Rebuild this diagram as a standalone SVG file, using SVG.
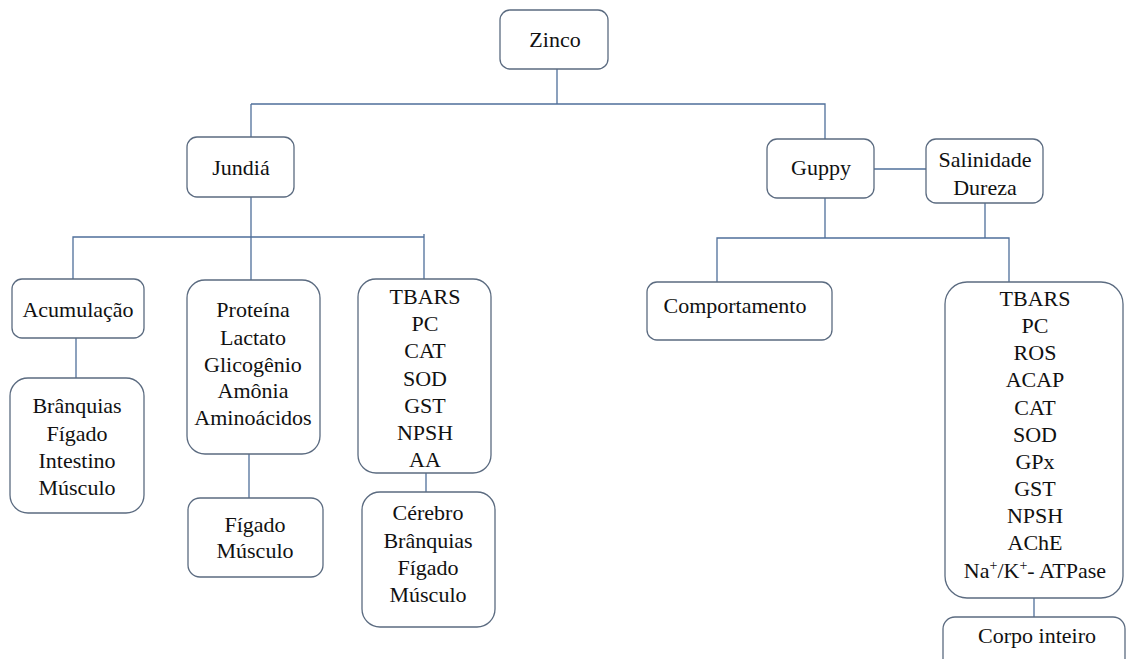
<svg xmlns="http://www.w3.org/2000/svg" width="1127" height="659" viewBox="0 0 1127 659">
<style>
.b{fill:#fff;stroke:#5b6b80;stroke-width:1.3}
.t{font-family:Liberation Serif,serif;font-size:22px;fill:#111;text-anchor:middle}
.c{stroke:#4f6f9a;stroke-width:1.3;fill:none}
</style>
<rect width="1127" height="659" fill="#fff"/>
<g id="connectors">
<path class="c" d="M557 69V104M251 104H825V139"/>
<path class="c" d="M251 104V137"/>
<path class="c" d="M251 197V280M73 279V237H424V279M424 234V241"/>
<path class="c" d="M76 338V378"/>
<path class="c" d="M249 454V498"/>
<path class="c" d="M426 473V492"/>
<path class="c" d="M874 169H926"/>
<path class="c" d="M825 198V238M985 203V238M717 282V238H1009V282"/>
<path class="c" d="M1034 598V617"/>
</g>
<g id="zinco"><rect class="b" x="500" y="10" width="108" height="59" rx="10"/><text class="t" x="555" y="47">Zinco</text></g>
<g id="jundia"><rect class="b" x="187" y="137" width="107" height="60" rx="10"/><text class="t" x="241" y="175">Jundiá</text></g>
<g id="guppy"><rect class="b" x="767" y="139" width="107" height="59" rx="10"/><text class="t" x="821" y="175">Guppy</text></g>
<g id="salinidade"><rect class="b" x="926" y="139" width="117" height="64" rx="10"/><text class="t" x="985" y="167">Salinidade</text><text class="t" x="985" y="195">Dureza</text></g>
<g id="acumulacao"><rect class="b" x="12" y="279" width="132" height="59" rx="10"/><text class="t" x="78" y="317">Acumulação</text></g>
<g id="orgaos1"><rect class="b" x="10" y="378" width="134" height="135" rx="18"/>
<text class="t" x="77" y="413">Brânquias</text><text class="t" x="77" y="441">Fígado</text><text class="t" x="77" y="468">Intestino</text><text class="t" x="77" y="495">Músculo</text></g>
<g id="proteina"><rect class="b" x="187" y="280" width="133" height="174" rx="18"/>
<text class="t" x="253" y="317">Proteína</text><text class="t" x="253" y="345">Lactato</text><text class="t" x="253" y="372">Glicogênio</text><text class="t" x="253" y="398">Amônia</text><text class="t" x="253" y="425">Aminoácidos</text></g>
<g id="figmus"><rect class="b" x="188" y="498" width="135" height="79" rx="12"/>
<text class="t" x="255" y="532">Fígado</text><text class="t" x="255" y="558">Músculo</text></g>
<g id="tbars1"><rect class="b" x="358" y="279" width="133" height="194" rx="18"/>
<text class="t" x="425" y="304">TBARS</text><text class="t" x="425" y="331">PC</text><text class="t" x="425" y="358">CAT</text><text class="t" x="425" y="386">SOD</text><text class="t" x="425" y="413">GST</text><text class="t" x="425" y="440">NPSH</text><text class="t" x="425" y="467">AA</text></g>
<g id="orgaos2"><rect class="b" x="362" y="492" width="133" height="135" rx="18"/>
<text class="t" x="428" y="520">Cérebro</text><text class="t" x="428" y="548">Brânquias</text><text class="t" x="428" y="575">Fígado</text><text class="t" x="428" y="602">Músculo</text></g>
<g id="comportamento"><rect class="b" x="647" y="282" width="185" height="58" rx="10"/><text class="t" x="735" y="313">Comportamento</text></g>
<g id="tbars2"><rect class="b" x="945" y="282" width="178" height="316" rx="22"/>
<text class="t" x="1035" y="306">TBARS</text><text class="t" x="1035" y="333">PC</text><text class="t" x="1035" y="360">ROS</text><text class="t" x="1035" y="387">ACAP</text><text class="t" x="1035" y="415">CAT</text><text class="t" x="1035" y="442">SOD</text><text class="t" x="1035" y="469">GPx</text><text class="t" x="1035" y="496">GST</text><text class="t" x="1035" y="523">NPSH</text><text class="t" x="1035" y="550">AChE</text>
<text class="t" x="1035" y="578">Na<tspan font-size="14" dy="-8">+</tspan><tspan dy="8">/K</tspan><tspan font-size="14" dy="-8">+</tspan><tspan dy="8">- ATPase</tspan></text></g>
<g id="corpo"><rect class="b" x="943" y="617" width="182" height="60" rx="12"/><text class="t" x="1037" y="643">Corpo inteiro</text></g>
</svg>
